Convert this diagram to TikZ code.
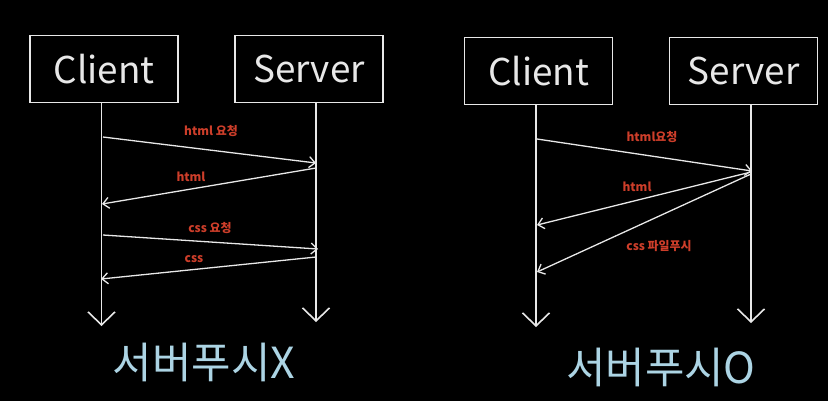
\documentclass[tikz,border=0pt]{standalone}
\usepackage{fontspec}
\setmainfont{Noto Sans CJK KR}
\usetikzlibrary{arrows.meta}
\definecolor{chalk}{RGB}{232,232,232}
\definecolor{redlabel}{RGB}{205,62,42}
\definecolor{bluetext}{RGB}{172,212,228}
\tikzset{
  actor/.style={draw=chalk, line width=1.6bp, minimum width=148bp, minimum height=67bp, inner sep=0pt, text=chalk, font=\fontsize{37}{40}\selectfont},
  lifeline/.style={draw=chalk, line width=1.6bp, -{Straight Barb[length=13bp,width=27bp,line width=1.6bp]}},
  msg/.style={draw=chalk, line width=1.3bp, -{Straight Barb[length=6bp,width=11bp,line width=1.3bp]}},
  msglabel/.style={text=redlabel, font=\fontsize{12}{13}\selectfont\bfseries, inner sep=1bp},
  title/.style={text=bluetext, font=\fontsize{43}{46}\selectfont}
}
\begin{document}
\begin{tikzpicture}[x=1bp,y=-1bp]
\fill[black] (0,0) rectangle (828,401);
\useasboundingbox (0,0) rectangle (828,401);

% ---------- left diagram ----------
\node[actor] (cl1) at (104,69) {Client};
\node[actor] (sv1) at (309,69) {Server};
\coordinate (cl1end) at (101.5,326);
\coordinate (sv1end) at (316,322);
\draw[lifeline] (cl1.south -| cl1end) -- (cl1end);
\draw[lifeline] (sv1.south -| sv1end) -- (sv1end);

\coordinate (m1a) at (103,137);
\coordinate (m1b) at (316,163);
\coordinate (m2a) at (316,168);
\coordinate (m2b) at (102,204);
\coordinate (m3a) at (103,235);
\coordinate (m3b) at (318,249);
\coordinate (m4a) at (316,257);
\coordinate (m4b) at (101,279);
\draw[msg] (m1a) -- (m1b);
\draw[msg] (m2a) -- (m2b);
\draw[msg] (m3a) -- (m3b);
\draw[msg] (m4a) -- (m4b);
\node[msglabel] (l1) at (211,131) {html 요청};
\node[msglabel] (l2) at (191,177) {html};
\node[msglabel] (l3) at (210,228) {css 요청};
\node[msglabel] (l4) at (194,259) {css};
\node[title] (t1) at (204,362) {서버푸시X};

% ---------- right diagram ----------
\node[actor] (cl2) at (538.5,71) {Client};
\node[actor] (sv2) at (743.5,71) {Server};
\coordinate (cl2end) at (536,327);
\coordinate (sv2end) at (751,323);
\draw[lifeline] (cl2.south -| cl2end) -- (cl2end);
\draw[lifeline] (sv2.south -| sv2end) -- (sv2end);

\coordinate (n1a) at (537,139);
\coordinate (n1b) at (752,171);
\coordinate (n2a) at (751,172);
\coordinate (n2b) at (537,225);
\coordinate (n3a) at (751,174);
\coordinate (n3b) at (537,272);
\draw[msg] (n1a) -- (n1b);
\draw[msg] (n2a) -- (n2b);
\draw[msg] (n3a) -- (n3b);
\node[msglabel] (k1) at (652,137) {html요청};
\node[msglabel] (k2) at (637,187) {html};
\node[msglabel] (k3) at (659,246) {css 파일푸시};
\node[title] (t2) at (661,367) {서버푸시O};
\end{tikzpicture}
\end{document}
